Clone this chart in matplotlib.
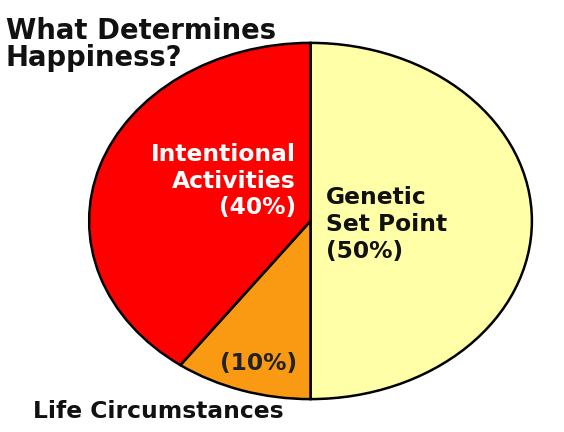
import matplotlib.pyplot as plt

# data
shares = [50, 10, 40]   # Genetic Set Point, Life Circumstances, Intentional Activities
colors = ['#FFFFA8', '#F99A12', '#FF0000']
genetic_lines = ['Genetic', 'Set Point', '(50%)']
intent_lines = ['Intentional', 'Activities', '(40%)']
life_pct = '(10%)'
title_lines = ['What Determines', 'Happiness?']
footer = 'Life Circumstances'

W, H = 564, 432
fig = plt.figure(figsize=(W / 100, H / 100), dpi=100)

# pie stretched to an ellipse: bounding box in pixels
x0, x1, y0, y1 = 88, 533, 42, 400
pie_ax = fig.add_axes([x0 / W, 1 - y1 / H, (x1 - x0) / W, (y1 - y0) / H])
pie_ax.pie(shares, colors=colors, startangle=90, counterclock=False,
           wedgeprops=dict(edgecolor='black', linewidth=1.8))
pie_ax.set_aspect('auto')
pie_ax.set_xlim(-1.005, 1.005)
pie_ax.set_ylim(-1.005, 1.005)
pie_ax.axis('off')

# text layer in pixel coords
ax = fig.add_axes([0, 0, 1, 1], zorder=3)
ax.set_xlim(0, W)
ax.set_ylim(H, 0)
ax.axis('off')

font = dict(family='DejaVu Sans', weight='bold', fontsize=16.8)

for i, s in enumerate(title_lines):
    ax.text(6, 39 + i * 27.5, s, family='DejaVu Sans', weight='bold', fontsize=19.8,
            ha='left', va='baseline', color='#111111')

for i, s in enumerate(intent_lines):
    ax.text(296, 161 + i * 26.7, s, ha='right', va='baseline', color='white', **font)

for i, s in enumerate(genetic_lines):
    ax.text(326, 204 + i * 27, s, ha='left', va='baseline', color='#111111', **font)

ax.text(259, 370, life_pct, ha='center', va='baseline', color='#222222', **font)
ax.text(33, 418, footer, ha='left', va='baseline', color='#111111', **font)

fig.savefig('out.png', dpi=100)
